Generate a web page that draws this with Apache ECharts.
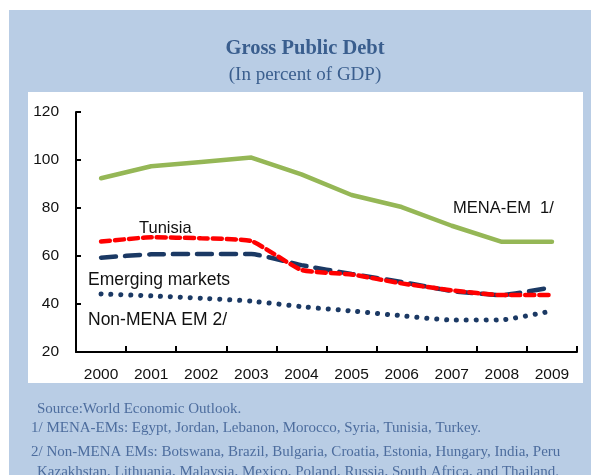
<!DOCTYPE html>
<html>
<head>
<meta charset="utf-8">
<script src="https://cdn.jsdelivr.net/npm/echarts@6/dist/echarts.min.js"></script>
<style>
  html, body { margin: 0; padding: 0; background: #ffffff; }
  #chart { width: 591px; height: 475px; }
</style>
</head>
<body>
<div id="chart"></div>
<script>
// Gross public debt, percent of GDP
const years = ['2000', '2001', '2002', '2003', '2004', '2005', '2006', '2007', '2008', '2009'];
const menaEm = [92.4, 97.4, 99.2, 101.0, 94.0, 85.4, 80.4, 72.6, 65.9, 65.9];
const tunisia = [66.0, 67.8, 67.4, 66.2, 54.2, 52.3, 48.6, 45.7, 43.7, 43.7];
const emergingMarkets = [59.3, 60.7, 60.8, 60.8, 56.2, 52.5, 49.2, 45.4, 43.7, 47.0];
const nonMenaEm = [44.2, 43.4, 42.4, 41.2, 38.9, 37.1, 35.1, 33.3, 33.4, 37.1];
const yTicks = { min: 20, max: 120, step: 20 };

const titleText = 'Gross Public Debt';
const subtitleText = '(In percent of GDP)';
const notes = [
  'Source:World Economic Outlook.',
  '1/ MENA-EMs: Egypt, Jordan, Lebanon, Morocco, Syria, Tunisia, Turkey.',
  '2/ Non-MENA EMs: Botswana, Brazil, Bulgaria, Croatia, Estonia, Hungary, India, Peru',
  'Kazakhstan, Lithuania, Malaysia, Mexico, Poland, Russia, South Africa, and Thailand.'
];

const panelBlue = '#b9cde5';
const headColor = '#3a5e8e';
const noteColor = '#4d6d9e';
const serif = '"Liberation Serif", "DejaVu Serif", serif';
const sans = '"Liberation Sans", Arial, sans-serif';

const chart = echarts.init(document.getElementById('chart'), null, { renderer: 'canvas' });

const seriesLabel = (text, x, y, size) => ({
  type: 'text', x: x, y: y, z: 10,
  style: { text: text, font: size + 'px ' + sans, fill: '#111111', textVerticalAlign: 'middle' }
});

const noteLine = (text, x, y) => ({
  type: 'text', x: x, y: y, z: 10,
  style: { text: text, font: '15px ' + serif, fill: noteColor, textVerticalAlign: 'middle' }
});

chart.setOption({
  animation: false,
  backgroundColor: '#ffffff',
  graphic: [
    { type: 'rect', z: -10, shape: { x: 9, y: 10, width: 582, height: 465 }, style: { fill: panelBlue } },
    { type: 'rect', z: -9, shape: { x: 28, y: 92, width: 555, height: 291 }, style: { fill: '#ffffff' } },
    { type: 'text', x: 305, y: 49, z: 10,
      style: { text: titleText, font: 'bold 20.5px ' + serif, fill: headColor, textAlign: 'center', textVerticalAlign: 'middle' } },
    { type: 'text', x: 305, y: 75, z: 10,
      style: { text: subtitleText, font: '19px ' + serif, fill: headColor, textAlign: 'center', textVerticalAlign: 'middle' } },
    seriesLabel('Tunisia', 139, 228, 16.5),
    seriesLabel('Emerging markets', 88, 280, 17.5),
    seriesLabel('Non-MENA EM 2/', 88, 320, 17.5),
    seriesLabel('MENA-EM  1/', 453, 208, 16.5),
    noteLine(notes[0], 37, 409),
    noteLine(notes[1], 31, 428),
    noteLine(notes[2], 31, 452),
    noteLine(notes[3], 37, 472)
  ],
  grid: { left: 76, right: 14, top: 112, bottom: 123, containLabel: false },
  xAxis: {
    type: 'category',
    data: years,
    boundaryGap: true,
    axisLine: { lineStyle: { color: '#000000', width: 2 } },
    axisTick: { show: true, inside: true, length: 6, lineStyle: { color: '#000000', width: 2 } },
    axisLabel: { color: '#111111', fontFamily: sans, fontSize: 15.5, margin: 15 },
    splitLine: { show: false }
  },
  yAxis: {
    type: 'value',
    min: yTicks.min, max: yTicks.max, interval: yTicks.step,
    axisLine: { show: true, lineStyle: { color: '#000000', width: 2 } },
    axisTick: { show: true, inside: true, length: 5, lineStyle: { color: '#000000', width: 2 } },
    axisLabel: { color: '#111111', fontFamily: sans, fontSize: 15.5, margin: 17 },
    splitLine: { show: false }
  },
  series: [
    {
      name: 'MENA-EM 1/', type: 'line', data: menaEm, symbol: 'none', z: 4,
      lineStyle: { color: '#95b756', width: 4.5, cap: 'round', join: 'round' }
    },
    {
      name: 'Emerging markets', type: 'line', data: emergingMarkets, symbol: 'none', z: 3, smooth: 0.15,
      lineStyle: { color: '#1b3964', width: 4.5, type: [15, 9], cap: 'round' }
    },
    {
      name: 'Tunisia', type: 'line', data: tunisia, symbol: 'none', z: 4, smooth: 0.15,
      lineStyle: { color: '#ff0000', width: 4.5, type: [9, 5], cap: 'round' }
    },
    {
      name: 'Non-MENA EM 2/', type: 'line', data: nonMenaEm, symbol: 'none', z: 3, smooth: 0.15,
      lineStyle: { color: '#1b3964', width: 5, type: [0.1, 9.8], cap: 'round' }
    }
  ]
});
</script>
</body>
</html>
